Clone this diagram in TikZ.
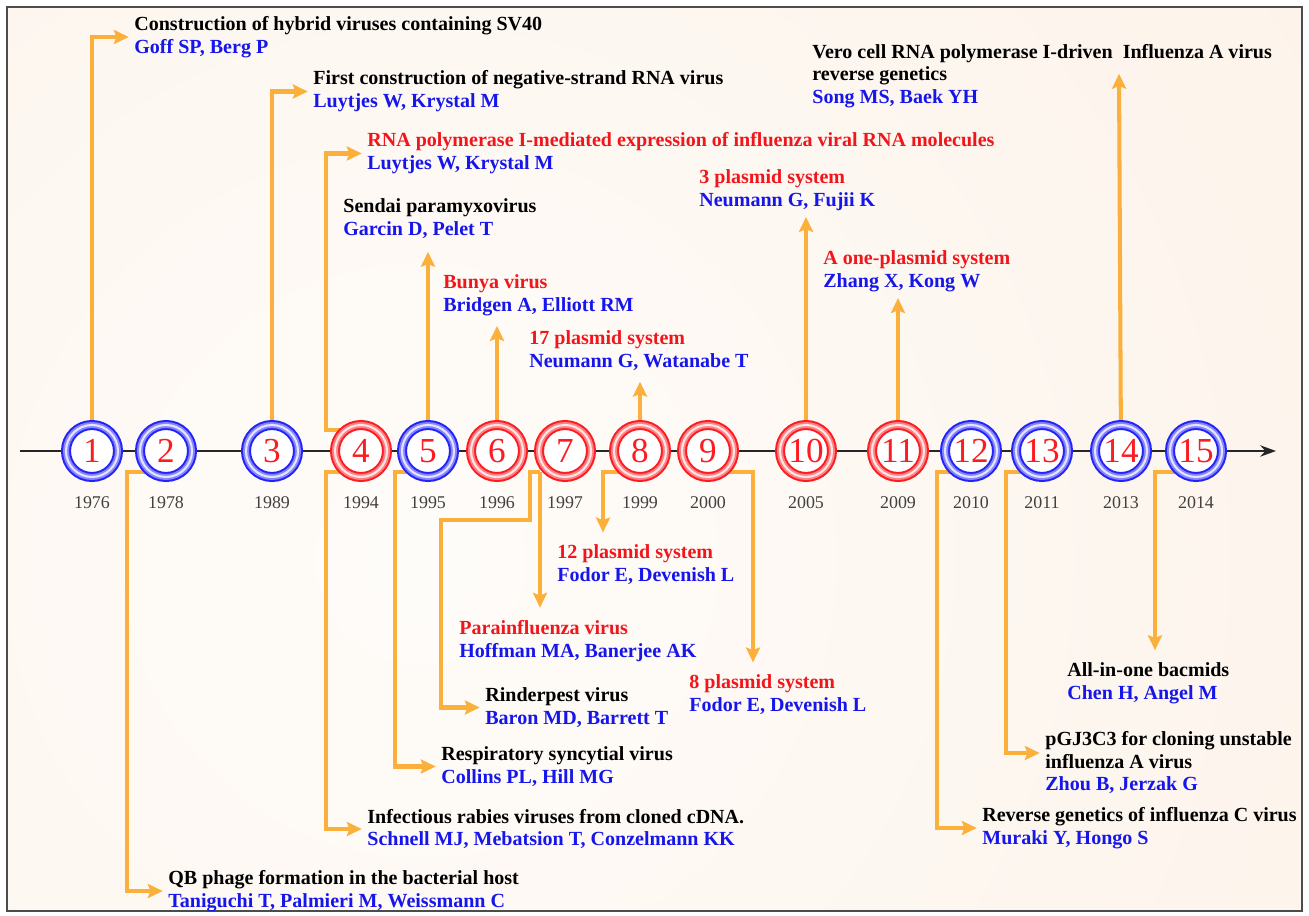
\documentclass[tikz,border=0pt]{standalone}
\usepackage{fontspec}
\setmainfont{Liberation Serif}
\usetikzlibrary{arrows.meta}
\pgfdeclarelayer{background}
\pgfsetlayers{background,main}
\definecolor{arrorange}{RGB}{251,176,59}
\definecolor{txtred}{RGB}{240,22,28}
\definecolor{txtblue}{RGB}{22,22,235}
\definecolor{ringblue}{RGB}{35,35,250}
\definecolor{ringred}{RGB}{252,28,34}
\definecolor{bgin}{RGB}{254,252,249}
\definecolor{bgout}{RGB}{252,236,222}
\newcommand{\redtxt}[1]{\textcolor{txtred}{#1}}
\newcommand{\bluetxt}[1]{\textcolor{txtblue}{#1}}
\begin{document}
\begin{tikzpicture}[x=0.02cm, y=-0.02cm, line join=miter,
  lbl/.style={anchor=west, align=left, inner sep=2pt, font=\bfseries\fontsize{11.4}{13}\selectfont},
  arr/.style={draw=arrorange, line width=2.3pt, -{Stealth[length=8.5pt,width=8pt,inset=1.5pt]}, shorten >=1pt},
  num/.style={circle, minimum size=35.2pt, inner sep=0pt, text=ringred, font=\fontsize{20}{20}\selectfont},
  yr/.style={text=black!75, font=\fontsize{10.2}{12}\selectfont}]
  \def\ty{451}
  \useasboundingbox (0,0) rectangle (1309,916);
  \begin{pgfonlayer}{background}
    \fill[white] (0,0) rectangle (1309,916);
    \begin{scope}
      \clip (7,7) rectangle (1302,911);
      \shade[inner color=bgin, outer color=bgout] (420,560) circle (1900);
    \end{scope}
    \draw[black!70, line width=1.2pt] (7,7) rectangle (1302,911);
  \end{pgfonlayer}
  % time axis
  \coordinate (ax0) at (20,\ty);
  \coordinate (ax1) at (1276,\ty);
  \draw[black!85, line width=0.7pt, -{Stealth[length=9pt,width=6.5pt]}] (ax0) -- (ax1);
  % rings and years
  \foreach \n/\x/\yr/\rc in {1/92/1976/ringblue, 2/166/1978/ringblue, 3/272/1989/ringblue,
      4/361/1994/ringred, 5/428/1995/ringblue, 6/497/1996/ringred, 7/565/1997/ringred,
      8/640/1999/ringred, 9/708/2000/ringred, 10/806/2005/ringred, 11/898/2009/ringred,
      12/971/2010/ringblue, 13/1042/2011/ringblue, 14/1121/2013/ringblue, 15/1196/2014/ringblue}{
    \fill[white] (\x,\ty) circle (26);
    \draw[\rc, line width=5.7pt] (\x,\ty) circle (26);
    \draw[\rc!55!white, line width=3.4pt] (\x,\ty) circle (26);
    \draw[\rc!12!white, line width=1.2pt] (\x,\ty) circle (26);
    \node[num] (c\n) at (\x,\ty) {\n};
    \node[yr] (y\n) at (\x,503) {\yr};
  }
  % events above the axis
  \node[lbl] (t1) at (130.5,37) {Construction of hybrid viruses containing SV40\\\bluetxt{Goff SP, Berg P}};
  \node[lbl] (t2) at (309.5,91.5) {First construction of negative-strand RNA virus\\\bluetxt{Luytjes W, Krystal M}};
  \node[lbl] (t3) at (363.5,153.5) {\redtxt{RNA polymerase I-mediated expression of influenza viral RNA molecules}\\\bluetxt{Luytjes W, Krystal M}};
  \node[lbl] (t4) at (339.5,218.5) {Sendai paramyxovirus\\\bluetxt{Garcin D, Pelet T}};
  \node[lbl] (t5) at (439.5,295) {\redtxt{Bunya virus}\\\bluetxt{Bridgen A, Elliott RM}};
  \node[lbl] (t6) at (525.5,350.5) {\redtxt{17 plasmid system}\\\bluetxt{Neumann G, Watanabe T}};
  \node[lbl] (t7) at (695.5,190) {\redtxt{3 plasmid system}\\\bluetxt{Neumann G, Fujii K}};
  \node[lbl] (t8) at (819.5,271) {\redtxt{A one-plasmid system}\\\bluetxt{Zhang X, Kong W}};
  \node[lbl] (t9) at (808.5,76) {Vero cell RNA polymerase I-driven\ \ Influenza A virus\\reverse genetics\\\bluetxt{Song MS, Baek YH}};
  % events below the axis
  \node[lbl] (t10) at (164.5,891) {QB phage formation in the bacterial host\\\bluetxt{Taniguchi T, Palmieri M, Weissmann C}};
  \node[lbl] (t11) at (363.5,829) {Infectious rabies viruses from cloned cDNA.\\\bluetxt{Schnell MJ, Mebatsion T, Conzelmann KK}};
  \node[lbl] (t12) at (437.5,766.5) {Respiratory syncytial virus\\\bluetxt{Collins PL, Hill MG}};
  \node[lbl] (t13) at (481.5,707.5) {Rinderpest virus\\\bluetxt{Baron MD, Barrett T}};
  \node[lbl] (t14) at (455.5,641) {\redtxt{Parainfluenza virus}\\\bluetxt{Hoffman MA, Banerjee AK}};
  \node[lbl] (t15) at (553.5,565) {\redtxt{12 plasmid system}\\\bluetxt{Fodor E, Devenish L}};
  \node[lbl] (t16) at (685.5,695) {\redtxt{8 plasmid system}\\\bluetxt{Fodor E, Devenish L}};
  \node[lbl] (t17) at (978.5,828) {Reverse genetics of influenza C virus\\\bluetxt{Muraki Y, Hongo S}};
  \node[lbl] (t18) at (1041.5,762.5) {pGJ3C3 for cloning unstable\\influenza A virus\\\bluetxt{Zhou B, Jerzak G}};
  \node[lbl] (t19) at (1063.5,683.5) {All-in-one bacmids\\\bluetxt{Chen H, Angel M}};
  % bends
  \coordinate (k2) at (127,472);   \coordinate (k4a) at (326,430); \coordinate (k4b) at (326,472);
  \coordinate (k5) at (395,472);   \coordinate (k7) at (540,472);  \coordinate (k8) at (603,472);
  \coordinate (k9) at (753,472);   \coordinate (k12) at (937,472); \coordinate (k13) at (1006,472);
  \coordinate (k15) at (1155,472); \coordinate (v14) at (1119,72);
  \begin{pgfonlayer}{background}
    \draw[arr] (c1.center) |- (t1.west);
    \draw[arr] (c3.center) |- (t2.west);
    \draw[arr] (c4.center |- k4a) -- (k4a) |- (t3.west);
    \draw[arr, shorten >=5.4pt] (c5.center) -- (c5.center |- t4.south);
    \draw[arr, shorten >=3.7pt] (c6.center) -- (c6.center |- t5.south);
    \draw[arr, shorten >=4.2pt] (c8.center) -- (c8.center |- t6.south);
    \draw[arr, shorten >=1.5pt] (c10.center) -- (c10.center |- t7.south);
    \draw[arr, shorten >=1.5pt] (c11.center) -- (c11.center |- t8.south);
    \draw[arr] (c14.center) -- (v14);
    \draw[arr] (c2.center |- k2) -- (k2) |- (t10.west);
    \draw[arr] (c4.center |- k4b) -- (k4b) |- (t11.west);
    \draw[arr] (c5.center |- k5) -- (k5) |- (t12.west);
    \draw[arr] (k7) -| ++(-10,48) -- ++(-89,0) |- (t13.west);
    \draw[arr, shorten >=5pt] (k7) -- (k7 |- t14.north);
    \draw[arr, shorten >=5pt] (c8.center |- k8) -- (k8) -- (k8 |- t15.north);
    \draw[arr, shorten >=5pt] (c9.center |- k9) -- (k9) -- (k9 |- t16.north);
    \draw[arr] (c12.center |- k12) -- (k12) |- (t17.west);
    \draw[arr] (c13.center |- k13) -- (k13) |- ([yshift=5.4pt]t18.west);
    \draw[arr, shorten >=5pt] (c15.center |- k15) -- (k15) -- (k15 |- t19.north);
  \end{pgfonlayer}
\end{tikzpicture}
\end{document}
